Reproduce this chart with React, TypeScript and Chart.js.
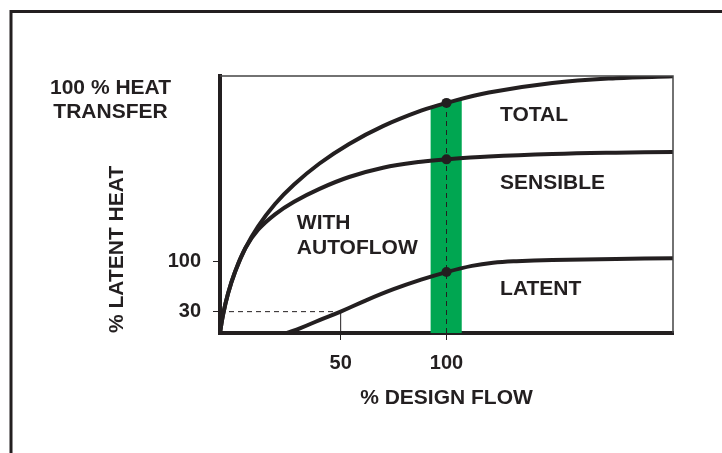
import React, { useEffect, useRef } from "react";
import { Chart, registerables } from "chart.js";

Chart.register(...registerables);

// ---------- data ----------
const totalFlow = [-7, -5.6, -3.2, 0, 5, 11, 19, 28, 40, 54, 70, 88, 100, 120, 150, 180, 207];
const totalHeat = [0, 25.3, 55.5, 85.1, 119.3, 149.9, 181.2, 208.6, 238.1, 265.6, 290.6, 312.3, 323.2, 337.8, 351.2, 357.9, 360.5];

const sensibleFlow = [-7, -5.6, -3.2, 0, 5, 11, 19, 28, 40, 54, 70, 88, 100, 120, 150, 180, 207];
const sensibleHeat = [0, 25.3, 55.5, 85.1, 119.3, 145.0, 166.7, 184.4, 202.5, 219.1, 232.2, 240.6, 243.9, 247.8, 251.3, 253.3, 254.4];

const latentFlow = [24.7, 31, 40, 50, 62, 75, 88, 100, 112, 122, 133, 150, 180, 207];
const latentHeat = [0, 6.8, 18.1, 30, 45.9, 61.5, 74.9, 85.6, 94.3, 98.7, 100.9, 102.6, 103.9, 105.1];

const xTickValues = [50, 100];
const yTickValues = [30, 100];
const designFlow = 100;
const designBand = [92.5, 107.2];
const autoflowFlow = 50;
const autoflowLatent = 30;
const flowRange = [-7, 207];
const heatRange = [0, 361];

const curveLabels = [
  { lines: ["TOTAL"], flow: 125.3, heat: 306.5 },
  { lines: ["SENSIBLE"], flow: 125.3, heat: 211 },
  { lines: ["LATENT"], flow: 125.3, heat: 62 },
  { lines: ["WITH", "AUTOFLOW"], flow: 29.3, heat: 153.6 },
];
const topLabel = ["100 % HEAT", "TRANSFER"];

// ---------- styles ----------
const INK = "#231f20";
const GREEN = "#00a651";
const FAMILY = '"Liberation Sans", Arial, Helvetica, sans-serif';
const LABEL_SIZE = 21;

const zip = (xs: number[], ys: number[]) => xs.map((x, i) => ({ x, y: ys[i] }));
const atFlow = (xs: number[], ys: number[], f: number) => ys[xs.indexOf(f)];

const decorPlugin = {
  id: "decor",
  beforeDraw(chart: any) {
    const ctx = chart.ctx;
    ctx.save();
    ctx.strokeStyle = INK;
    ctx.lineWidth = 3;
    ctx.strokeRect(11, 11.5, 900, 700);
    ctx.restore();
  },
  beforeDatasetsDraw(chart: any) {
    const ctx = chart.ctx;
    const area = chart.chartArea;
    const xs = chart.scales.x;
    const ys = chart.scales.y;
    const meta = chart.getDatasetMeta(1);
    const line: any = meta.dataset;
    const pts: any[] = meta.data;
    if (!line || !pts.length) return;
    if (typeof line.updateControlPoints === "function") line.updateControlPoints(area, "x");
    const x1 = xs.getPixelForValue(designBand[0]);
    const x2 = xs.getPixelForValue(designBand[1]);
    const yb = ys.getPixelForValue(0);
    ctx.save();
    ctx.beginPath();
    ctx.rect(x1, area.top, x2 - x1, yb - area.top);
    ctx.clip();
    ctx.beginPath();
    if (typeof line.path === "function") {
      line.path(ctx);
    } else {
      pts.forEach((p, i) => (i ? ctx.lineTo(p.x, p.y) : ctx.moveTo(p.x, p.y)));
    }
    ctx.lineTo(pts[pts.length - 1].x, yb);
    ctx.lineTo(pts[0].x, yb);
    ctx.closePath();
    ctx.fillStyle = GREEN;
    ctx.fill();
    ctx.restore();
  },
  afterDatasetsDraw(chart: any) {
    const ctx = chart.ctx;
    const area = chart.chartArea;
    const xs = chart.scales.x;
    const ys = chart.scales.y;
    ctx.save();
    ctx.strokeStyle = "#444";
    ctx.lineWidth = 1.5;
    ctx.beginPath();
    ctx.moveTo(area.left, area.top);
    ctx.lineTo(area.right, area.top);
    ctx.lineTo(area.right, area.bottom);
    ctx.stroke();

    ctx.fillStyle = INK;
    ctx.font = `bold ${LABEL_SIZE}px ${FAMILY}`;
    ctx.textBaseline = "middle";
    ctx.textAlign = "left";
    curveLabels.forEach((l) => {
      const x = xs.getPixelForValue(l.flow);
      const y = ys.getPixelForValue(l.heat);
      l.lines.forEach((t, i) => ctx.fillText(t, x, y + i * 24.5));
    });
    ctx.textAlign = "center";
    topLabel.forEach((t, i) => ctx.fillText(t, area.left - 109.5, area.top + 12 + i * 24));
    ctx.restore();
  },
};

export default function App() {
  const ref = useRef<HTMLCanvasElement | null>(null);

  useEffect(() => {
    if (!ref.current) return;
    const tickFont = { family: FAMILY, size: 20, weight: "bold" as const };
    const titleFont = { family: FAMILY, size: LABEL_SIZE, weight: "bold" as const };
    const totalAtDesign = atFlow(totalFlow, totalHeat, designFlow);
    const curve = {
      showLine: true,
      borderColor: INK,
      borderWidth: 4,
      pointRadius: 0,
      tension: 0.4,
      borderCapStyle: "round",
      borderJoinStyle: "round",
    };
    const chart = new Chart(ref.current, {
      type: "scatter",
      data: {
        datasets: [
          {
            label: "design points",
            data: [
              { x: designFlow, y: totalAtDesign },
              { x: designFlow, y: atFlow(sensibleFlow, sensibleHeat, designFlow) },
              { x: designFlow, y: atFlow(latentFlow, latentHeat, designFlow) },
            ],
            pointRadius: 5,
            pointBackgroundColor: INK,
            pointBorderWidth: 0,
            showLine: false,
          },
          { label: "TOTAL", data: zip(totalFlow, totalHeat), ...curve },
          { label: "SENSIBLE", data: zip(sensibleFlow, sensibleHeat), ...curve },
          { label: "LATENT", data: zip(latentFlow, latentHeat), ...curve },
          {
            label: "design flow guide",
            data: [
              { x: designFlow, y: 0 },
              { x: designFlow, y: totalAtDesign },
            ],
            showLine: true,
            borderColor: INK,
            borderWidth: 1,
            borderDash: [5, 4],
            pointRadius: 0,
          },
          {
            label: "autoflow vertical",
            data: [
              { x: autoflowFlow, y: 0 },
              { x: autoflowFlow, y: autoflowLatent },
            ],
            showLine: true,
            borderColor: INK,
            borderWidth: 1,
            pointRadius: 0,
          },
          {
            label: "autoflow horizontal",
            data: [
              { x: flowRange[0], y: autoflowLatent },
              { x: autoflowFlow, y: autoflowLatent },
            ],
            showLine: true,
            borderColor: INK,
            borderWidth: 1,
            borderDash: [5, 4],
            pointRadius: 0,
          },
        ],
      },
      options: {
        responsive: false,
        animation: false,
        devicePixelRatio: 1,
        layout: { padding: { top: 76, right: 49, left: 0, bottom: 0 } },
        plugins: { legend: { display: false }, tooltip: { enabled: false } },
        scales: {
          x: {
            type: "linear",
            min: flowRange[0],
            max: flowRange[1],
            afterBuildTicks: (s: any) => {
              s.ticks = xTickValues.map((v) => ({ value: v }));
            },
            afterFit: (s: any) => {
              s.height = 120;
            },
            ticks: {
              font: tickFont,
              color: INK,
              padding: 11,
              maxRotation: 0,
              autoSkip: false,
              callback: (v: any) => String(v),
            },
            grid: { drawOnChartArea: false, drawTicks: true, tickLength: 7, color: INK, lineWidth: 1 },
            border: { display: true, width: 4, color: INK },
            title: {
              display: true,
              text: "% DESIGN FLOW",
              font: titleFont,
              color: INK,
              padding: { top: 0, bottom: 42 },
            },
          },
          y: {
            type: "linear",
            min: heatRange[0],
            max: heatRange[1],
            afterBuildTicks: (s: any) => {
              s.ticks = yTickValues.map((v) => ({ value: v }));
            },
            afterFit: (s: any) => {
              s.width = 220;
            },
            ticks: {
              font: tickFont,
              color: INK,
              padding: 12,
              autoSkip: false,
              callback: (v: any) => String(v),
            },
            grid: { drawOnChartArea: false, drawTicks: true, tickLength: 7, color: INK, lineWidth: 1 },
            border: { display: true, width: 4, color: INK },
            title: {
              display: true,
              text: "% LATENT HEAT",
              align: "start",
              font: titleFont,
              color: INK,
              padding: { top: 105, bottom: 0 },
            },
          },
        },
      },
      plugins: [decorPlugin],
    } as any);
    return () => chart.destroy();
  }, []);

  return (
    <div style={{ position: "fixed", left: 0, top: 0, width: 722, height: 453, background: "#fff", overflow: "hidden" }}>
      <canvas ref={ref} width={722} height={453} style={{ display: "block" }} />
    </div>
  );
}
